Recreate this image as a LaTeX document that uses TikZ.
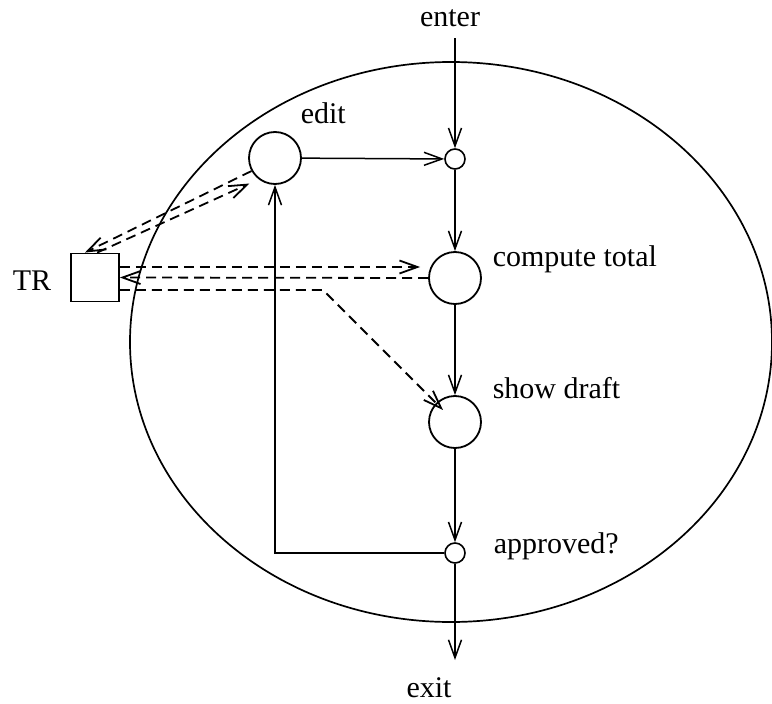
\documentclass[tikz,border=0pt]{standalone}
\usepackage{fontspec}
\setmainfont{Liberation Serif}
\usepackage{tikz}
\usetikzlibrary{arrows.meta}

\begin{document}
\begin{tikzpicture}[x=1pt,y=-1pt,line width=1.5pt]
	\tikzstyle{every node}+=[inner sep=0pt,font=\fontsize{30}{36}\selectfont]
	\tikzstyle{big}=[draw,circle,line width=1.8pt,minimum size=52pt]
	\tikzstyle{small}=[draw,circle,line width=1.6pt,minimum size=20pt]
	\tikzstyle{arr}=[-{Straight Barb[length=18pt,width=13pt]}]
	\tikzstyle{dsh}=[dash pattern=on 10pt off 6pt,line width=1.8pt]
	\useasboundingbox (0,0) rectangle (772,704);
	\draw [black,line width=1.7pt] (451,342) ellipse [x radius=321pt,y radius=280pt];
	\node [big] (edit) at (275,158) {};
	\node [small] (join) at (455,159) {};
	\node [big] (total) at (455,278) {};
	\node [big] (draft) at (455,422) {};
	\node [small] (ok) at (455,553) {};
	\node [draw,line width=1.8pt,minimum size=48pt] (TR) at (95,277.5) {};
	\coordinate (enter) at (455,38);
	\coordinate (exit) at (455,660);
	\coordinate (bend) at (323,290);
	\draw (450,27) node [anchor=base] {enter};
	\draw (429,697) node [anchor=base] {exit};
	\draw (300,123) node [anchor=base west] {edit};
	\draw (492,266) node [anchor=base west] {compute total};
	\draw (492,398) node [anchor=base west] {show draft};
	\draw (493,553) node [anchor=base west] {approved?};
	\draw (12,290) node [anchor=base west] {TR};
	% control flow
	\draw [arr] (enter) -- (join);
	\draw [arr] (edit) -- (join);
	\draw [arr] (join) -- (total);
	\draw [arr] (total) -- (draft);
	\draw [arr] (draft) -- (ok);
	\draw [arr] (ok) -- (exit);
	\draw [arr] (ok.west) -| (edit.south);
	% data flow with TR
	\draw [arr,dsh] (edit.209) -- (TR.112);
	\draw [arr,dsh] (TR.85) -- ([shift={(-6.5pt,-6.5pt)}]edit.225);
	\draw [arr,dsh,shorten >=8pt] ([yshift=10.5pt]TR.east) -- ([yshift=11pt]total.west);
	\draw [arr,dsh] (total.west) -- (TR.east);
	\draw [arr,dsh,shorten >=17pt] ([yshift=-12.5pt]TR.east) -- (bend) -- (draft.center);
\end{tikzpicture}
\end{document}
